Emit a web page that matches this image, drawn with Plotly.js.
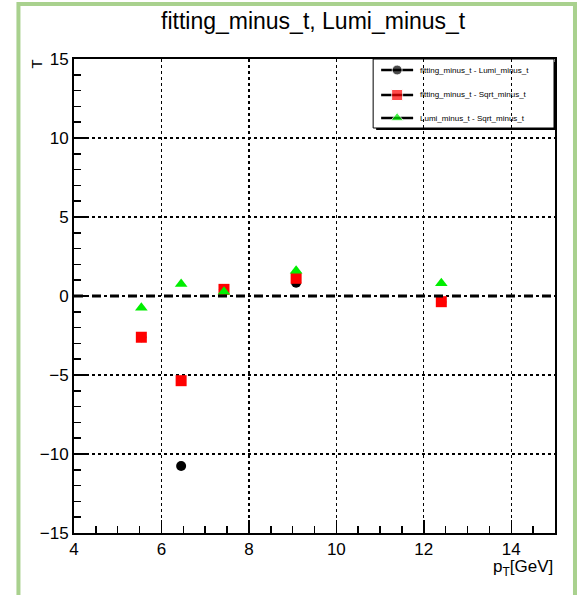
<!DOCTYPE html>
<html>
<head>
<meta charset="utf-8">
<script src="https://cdn.plot.ly/plotly-3.0.1.min.js"></script>
<style>html,body{margin:0;padding:0;background:#fff;}#chart{width:577px;height:595px;}</style>
</head>
<body>
<div id="chart"></div>
<script>
// Data
const ptValues = [5.54, 6.45, 7.43, 9.08, 12.4];
const fitMinusLumi = [-2.61, -10.76, 0.42, 0.84, -0.38];
const fitMinusSqrt = [-2.61, -5.36, 0.42, 1.12, -0.36];
const lumiMinusSqrt = [-0.74, 0.76, 0.27, 1.60, 0.80];
const seriesNames = ["fitting_minus_t - Lumi_minus_t", "fitting_minus_t - Sqrt_minus_t", "Lumi_minus_t - Sqrt_minus_t"];
const xTickVals = [4, 6, 8, 10, 12, 14];
const yTickVals = [-15, -10, -5, 0, 5, 10, 15];
const xRange = [4, 15];
const yRange = [-15, 15];

const W = 577, H = 595;
const L = 73.6, R = 22, T = 59, B = 62;
const pw = W - L - R, ph = H - T - B;
const px = x => (x - L) / pw;
const py = y => (H - B - y) / ph;

const font = "Liberation Sans, Arial, sans-serif";

const traces = [
  {x: ptValues, y: fitMinusLumi, mode: 'markers', type: 'scatter', name: seriesNames[0],
   marker: {symbol: 'circle', size: 10, color: '#000000'}},
  {x: ptValues, y: fitMinusSqrt, mode: 'markers', type: 'scatter', name: seriesNames[1],
   marker: {symbol: 'square', size: 11, color: '#ff0000'}},
  {x: ptValues, y: lumiMinusSqrt, mode: 'markers', type: 'scatter', name: seriesNames[2],
   marker: {symbol: 'triangle-up', size: 11, color: '#00ee00'}}
];

// custom ROOT-style legend
const legX0 = px(373), legX1 = px(554), legY0 = py(128), legY1 = py(59);
const rowsY = [70, 95, 118];
const markers = [{s:'circle', c:'#000', sz:10}, {s:'square', c:'#ff0000', sz:11}, {s:'triangle-up', c:'#00ee00', sz:11}];
const shapes = [
  // zero dashed line
  {type: 'line', xref: 'x', yref: 'y', x0: xRange[0], x1: xRange[1], y0: 0, y1: 0,
   line: {color: '#000', width: 3, dash: 'dash'}},
  // legend shadow
  {type: 'rect', xref: 'paper', yref: 'paper', x0: px(376), x1: px(556), y0: py(130), y1: py(62),
   fillcolor: '#000', line: {width: 0}, layer: 'between'},
  // legend box
  {type: 'rect', xref: 'paper', yref: 'paper', x0: legX0, x1: legX1, y0: legY0, y1: legY1,
   fillcolor: '#fff', line: {color: '#000', width: 1}, layer: 'between'},
  // outer green frame
  {type: 'path', xref: 'paper', yref: 'paper',
   path: `M ${px(18)} ${py(600)} L ${px(18)} ${py(4)} L ${px(575)} ${py(4)} L ${px(575)} ${py(600)}`,
   line: {color: '#a9d18e', width: 4}}
];
rowsY.forEach((ry, i) => {
  shapes.push({type: 'line', xref: 'paper', yref: 'paper', x0: px(381), x1: px(413), y0: py(ry), y1: py(ry),
    line: {color: '#000', width: 2.5}, layer: 'between'});
});

const annotations = [
  {text: 'fitting_minus_t, Lumi_minus_t', xref: 'paper', yref: 'paper', x: px(313), y: py(21),
   xanchor: 'center', yanchor: 'middle', showarrow: false, font: {family: font, size: 23, color: '#000'}},
  {text: 'p<sub>T</sub>[GeV]', xref: 'paper', yref: 'paper', x: 1, y: py(568),
   xanchor: 'right', yanchor: 'middle', showarrow: false, font: {family: font, size: 17, color: '#000'}},
  {text: 'T', xref: 'paper', yref: 'paper', x: px(37), y: py(64), textangle: -90,
   xanchor: 'center', yanchor: 'middle', showarrow: false, font: {family: font, size: 15, color: '#000'}}
];
rowsY.forEach((ry, i) => {
  annotations.push({text: seriesNames[i], xref: 'paper', yref: 'paper', x: px(418), y: py(ry),
    xanchor: 'left', yanchor: 'middle', showarrow: false, font: {family: font, size: 8, color: '#000'}});
});

// legend markers as a trace on a hidden overlay axis in paper space
const legMarkerTrace = {
  x: rowsY.map(() => px(397)), y: rowsY.map(r => py(r)), xaxis: 'x2', yaxis: 'y2',
  mode: 'markers', type: 'scatter', showlegend: false, hoverinfo: 'skip', cliponaxis: false,
  marker: {symbol: markers.map(m => m.s), color: markers.map(m => m.c), size: markers.map(m => m.sz)}
};

const layout = {
  width: W, height: H,
  margin: {l: L, r: R, t: T, b: B, pad: 0},
  paper_bgcolor: '#fff', plot_bgcolor: '#fff',
  showlegend: false,
  xaxis: {
    range: xRange, tickvals: xTickVals, ticks: 'inside', ticklen: 13, tickwidth: 1.5, tickcolor: '#000',
    showline: true, linecolor: '#000', linewidth: 2, mirror: true,
    showgrid: true, gridcolor: '#000', griddash: 'dot', gridwidth: 1.3, zeroline: false,
    tickfont: {family: font, size: 17, color: '#000'},
    minor: {dtick: 0.5, tick0: 4, ticks: 'inside', ticklen: 7, tickwidth: 1.5, tickcolor: '#000', showgrid: false}
  },
  yaxis: {
    range: yRange, tickvals: yTickVals, ticks: 'inside', ticklen: 13, tickwidth: 1.5, tickcolor: '#000',
    showline: true, linecolor: '#000', linewidth: 2, mirror: true,
    showgrid: true, gridcolor: '#000', griddash: 'dot', gridwidth: 1.3, zeroline: false,
    tickfont: {family: font, size: 17, color: '#000'},
    minor: {dtick: 1, tick0: 0, ticks: 'inside', ticklen: 7, tickwidth: 1.5, tickcolor: '#000', showgrid: false}
  },
  xaxis2: {overlaying: 'x', range: [0, 1], visible: false, fixedrange: true},
  yaxis2: {overlaying: 'y', range: [0, 1], visible: false, fixedrange: true},
  shapes: shapes,
  annotations: annotations
};

Plotly.newPlot('chart', traces.concat([legMarkerTrace]), layout, {displayModeBar: false, staticPlot: true});
</script>
</body>
</html>
